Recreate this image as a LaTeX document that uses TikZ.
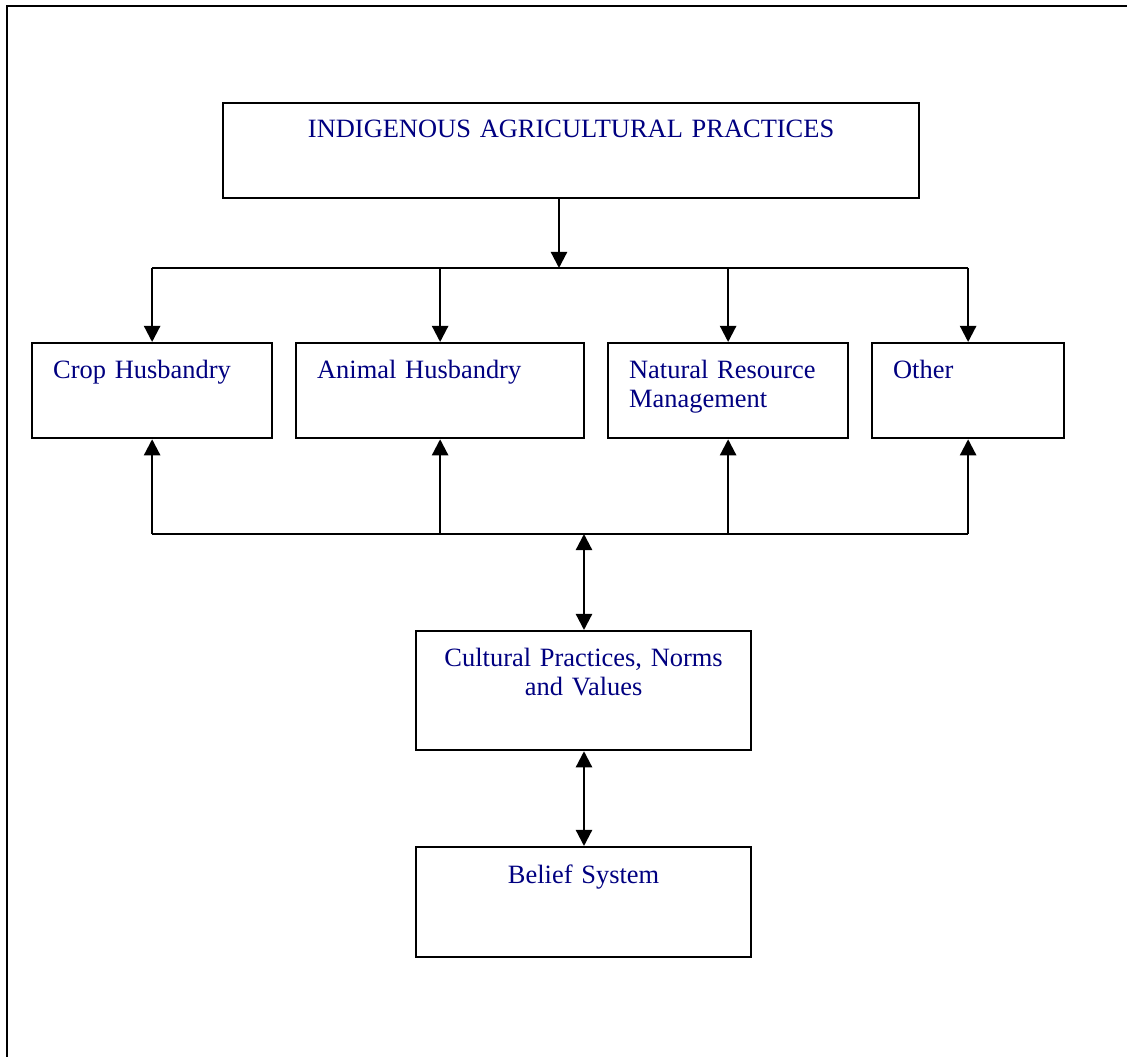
\documentclass[tikz,border=0pt]{standalone}
\usepackage{fontspec}
\setmainfont{Liberation Serif}
\usetikzlibrary{arrows.meta}
\definecolor{navytext}{RGB}{0,0,128}
\newlength\pxu
\setlength\pxu{0.025cm}

\begin{document}
\begin{tikzpicture} [x=1\pxu, y=-1\pxu,
			      frame/.style={line width=1.6pt},
			      line/.style={line width=1.6pt},
			      box/.style={draw, line width=1.6pt, anchor=north west, inner ysep=0pt, inner xsep=21\pxu,
			                  font=\fontsize{18.8}{20.6}\selectfont, text=navytext, align=left},
			      arr/.style={line width=1.6pt, -{Triangle[width=11.5pt,length=11.5pt]}},
			      dbl/.style={line width=1.6pt, {Triangle[width=11.5pt,length=11.5pt]}-{Triangle[width=11.5pt,length=11.5pt]}}]
    \useasboundingbox (0,0) rectangle (1127,1057);
    \draw[frame] (7,1057) -- (7,6) -- (1127,6);

    \node[box, minimum width=696\pxu, minimum height=95\pxu, text width=654\pxu, align=center,
          text height=34\pxu, text depth=61\pxu] (top) at (222,102) {INDIGENOUS AGRICULTURAL PRACTICES};

    \node[box, minimum width=240\pxu, minimum height=95\pxu, text width=198\pxu,
          text height=35\pxu, text depth=60\pxu] (crop) at (31,342) {Crop Husbandry};
    \node[box, minimum width=288\pxu, minimum height=95\pxu, text width=246\pxu,
          text height=35\pxu, text depth=60\pxu] (animal) at (295,342) {Animal Husbandry};
    \node[box, minimum width=240\pxu, minimum height=95\pxu, text width=198\pxu,
          text height=35\pxu, text depth=60\pxu] (natural) at (607,342) {Natural Resource\\Management};
    \node[box, minimum width=192\pxu, minimum height=95\pxu, text width=150\pxu,
          text height=35\pxu, text depth=60\pxu] (other) at (871,342) {Other};

    \node[box, minimum width=335\pxu, minimum height=119\pxu, text width=293\pxu, align=center,
          text height=35\pxu, text depth=84\pxu] (cultural) at (415,630) {Cultural Practices, Norms\\and Values};
    \node[box, minimum width=335\pxu, minimum height=110\pxu, text width=293\pxu, align=center,
          text height=36\pxu, text depth=74\pxu] (belief) at (415,846) {Belief System};

    % split down to the four practices
    \coordinate (split) at (559,268);
    \draw[arr] (split |- top.south) -- (split);
    \draw[line] (crop.north |- split) -- (other.north |- split);
    \foreach \n in {crop,animal,natural,other}
        \draw[arr] (\n.north |- split) -- (\n.north);

    % join up from the cultural practices
    \coordinate (join) at (584,534);
    \draw[line] (crop.south |- join) -- (other.south |- join);
    \foreach \n in {crop,animal,natural,other}
        \draw[arr] (\n.south |- join) -- (\n.south);
    \draw[dbl] (join) -- (join |- cultural.north);
    \draw[dbl] (join |- cultural.south) -- (join |- belief.north);

\end{tikzpicture}
\end{document}
